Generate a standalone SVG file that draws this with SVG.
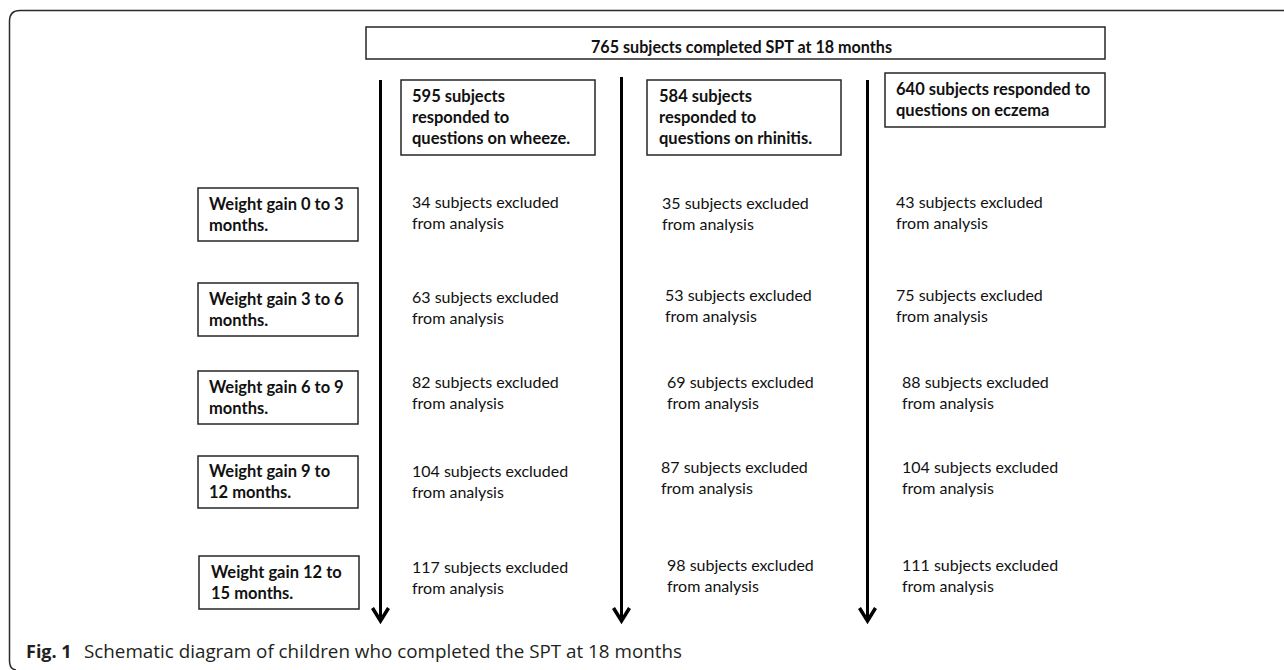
<svg xmlns="http://www.w3.org/2000/svg" width="1284" height="670" viewBox="0 0 1284 670">
<style>
.frame{fill:none;stroke:#2b2b2b;stroke-width:1.5}
.box{fill:#fff;stroke:#262626;stroke-width:1.5}
.b{font-family:Lato,"Liberation Sans",sans-serif;font-weight:700;font-size:16.5px;fill:#111}
.r{font-family:Lato,"Liberation Sans",sans-serif;font-weight:400;font-size:16px;fill:#111}
.cap{font-family:"Open Sans","Noto Sans",sans-serif;font-size:18px;fill:#231f20}
.arr{stroke:#000;stroke-width:3;fill:none}
</style>
<defs>
<marker id="ah" markerUnits="userSpaceOnUse" markerWidth="40" markerHeight="40" viewBox="-20 -20 40 40" refX="0" refY="0" orient="auto" overflow="visible">
<path d="M-13,-8 L0,0 L-13,8" fill="none" stroke="#000" stroke-width="3.5"/>
</marker>
</defs>
<rect width="1284" height="670" fill="#fff"/>
<path class="frame" d="M1284,10.5 H20 Q9.5,10.5 9.5,21 V661 Q9.5,669 16,670"/>

<g id="connectors">
<line class="arr" x1="380.5" y1="80" x2="380.5" y2="621" marker-end="url(#ah)"/>
<line class="arr" x1="621.5" y1="77" x2="621.5" y2="621" marker-end="url(#ah)"/>
<line class="arr" x1="867.5" y1="80" x2="867.5" y2="621" marker-end="url(#ah)"/>
</g>

<g id="top">
<rect class="box" x="366" y="27" width="739" height="32"/>
<text class="b" x="591" y="53" textLength="301" lengthAdjust="spacingAndGlyphs">765 subjects completed SPT at 18 months</text>
</g>

<g id="wheeze">
<rect class="box" x="401" y="80" width="194" height="75"/>
<text class="b" x="412" y="102">595 subjects</text>
<text class="b" x="412" y="123">responded to</text>
<text class="b" x="412" y="144">questions on wheeze.</text>
</g>

<g id="rhinitis">
<rect class="box" x="647" y="80" width="194" height="75"/>
<text class="b" x="659" y="102">584 subjects</text>
<text class="b" x="659" y="123">responded to</text>
<text class="b" x="659" y="144">questions on rhinitis.</text>
</g>

<g id="eczema">
<rect class="box" x="885" y="73" width="220" height="54"/>
<text class="b" x="896" y="95">640 subjects responded to</text>
<text class="b" x="896" y="116">questions on eczema</text>
</g>

<g id="wg1">
<rect class="box" x="198" y="188" width="160" height="53"/>
<text class="b" x="209" y="210">Weight gain 0 to 3</text>
<text class="b" x="209" y="231">months.</text>
</g>
<g id="wg2">
<rect class="box" x="198" y="283" width="160" height="53"/>
<text class="b" x="209" y="305">Weight gain 3 to 6</text>
<text class="b" x="209" y="326">months.</text>
</g>
<g id="wg3">
<rect class="box" x="198" y="371" width="160" height="53"/>
<text class="b" x="209" y="393">Weight gain 6 to 9</text>
<text class="b" x="209" y="414">months.</text>
</g>
<g id="wg4">
<rect class="box" x="198" y="456" width="160" height="52"/>
<text class="b" x="209" y="477">Weight gain 9 to</text>
<text class="b" x="209" y="498">12 months.</text>
</g>
<g id="wg5">
<rect class="box" x="199" y="556" width="160" height="53"/>
<text class="b" x="211" y="578">Weight gain 12 to</text>
<text class="b" x="211" y="599">15 months.</text>
</g>

<g id="excluded">
<text class="r" x="412" y="208">34 subjects excluded</text><text class="r" x="412" y="229">from analysis</text>
<text class="r" x="412" y="303">63 subjects excluded</text><text class="r" x="412" y="324">from analysis</text>
<text class="r" x="412" y="388">82 subjects excluded</text><text class="r" x="412" y="409">from analysis</text>
<text class="r" x="412" y="477">104 subjects excluded</text><text class="r" x="412" y="498">from analysis</text>
<text class="r" x="412" y="573">117 subjects excluded</text><text class="r" x="412" y="594">from analysis</text>

<text class="r" x="662" y="209">35 subjects excluded</text><text class="r" x="662" y="230">from analysis</text>
<text class="r" x="665" y="301">53 subjects excluded</text><text class="r" x="665" y="322">from analysis</text>
<text class="r" x="667" y="388">69 subjects excluded</text><text class="r" x="667" y="409">from analysis</text>
<text class="r" x="661" y="473">87 subjects excluded</text><text class="r" x="661" y="494">from analysis</text>
<text class="r" x="667" y="571">98 subjects excluded</text><text class="r" x="667" y="592">from analysis</text>

<text class="r" x="896" y="208">43 subjects excluded</text><text class="r" x="896" y="229">from analysis</text>
<text class="r" x="896" y="301">75 subjects excluded</text><text class="r" x="896" y="322">from analysis</text>
<text class="r" x="902" y="388">88 subjects excluded</text><text class="r" x="902" y="409">from analysis</text>
<text class="r" x="902" y="473">104 subjects excluded</text><text class="r" x="902" y="494">from analysis</text>
<text class="r" x="902" y="571">111 subjects excluded</text><text class="r" x="902" y="592">from analysis</text>
</g>

<g id="caption">
<text class="cap" x="26" y="658" font-weight="700">Fig. 1</text>
<text class="cap" x="84" y="658" textLength="598" lengthAdjust="spacingAndGlyphs">Schematic diagram of children who completed the SPT at 18 months</text>
</g>
</svg>
